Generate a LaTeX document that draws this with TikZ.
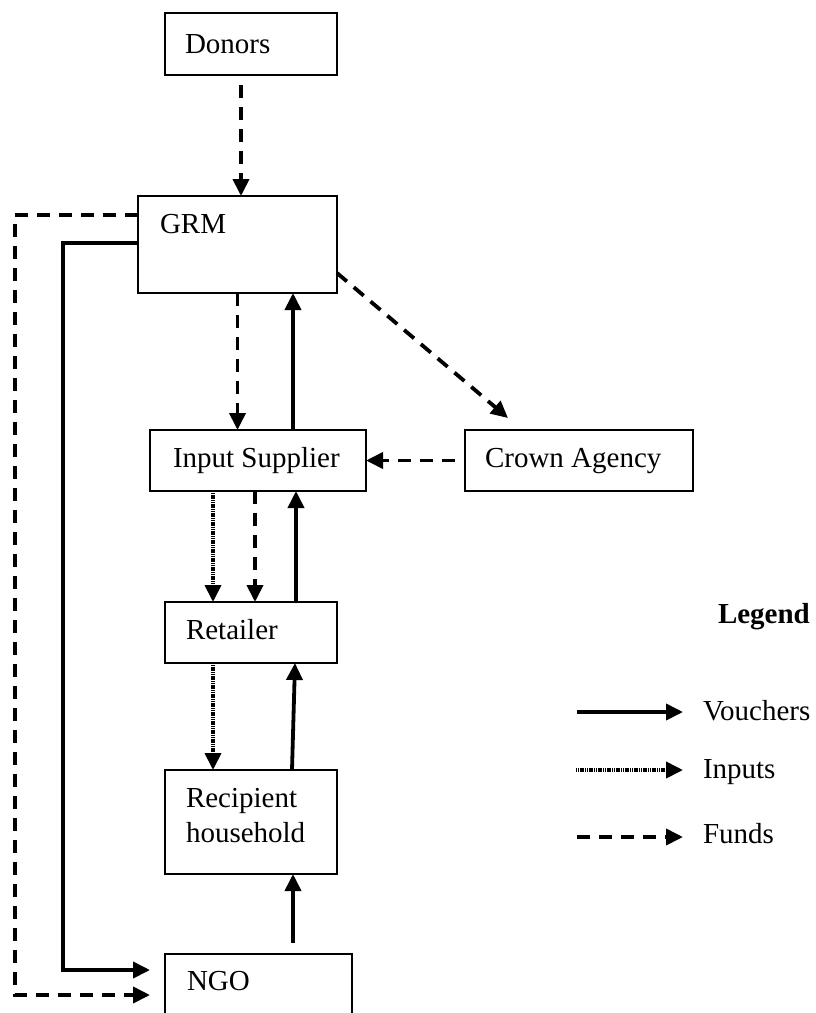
\documentclass[tikz,border=0pt]{standalone}
\usepackage{fontspec}
\setmainfont{Liberation Serif}
\usetikzlibrary{arrows.meta,calc}
\begin{document}
\begin{tikzpicture}[x=1pt,y=-1pt,
  box/.style={draw, line width=1.8pt, inner sep=0pt, outer sep=0pt},
  txt/.style={inner sep=0pt, outer sep=0pt, anchor=base west, font=\fontsize{29}{35}\selectfont},
  tip/.style={-{Triangle[length=17pt,width=16pt]}},
  vouch/.style={tip, line width=3.8pt},
  funds/.style={tip, line width=3.8pt, dash pattern=on 13pt off 9pt},
  inputs/.style={tip, line width=3.8pt, dash pattern=on 1.2pt off 0.6pt}]
\useasboundingbox (0,0) rectangle (816,1013);
% boxes
\node[box, minimum width=172pt, minimum height=62pt] (donors) at (251,44) {};
\node[box, minimum width=199pt, minimum height=97pt] (grm) at (237.5,244.5) {};
\node[box, minimum width=216pt, minimum height=61pt] (is) at (258,460.5) {};
\node[box, minimum width=228pt, minimum height=61pt] (crown) at (579,460.5) {};
\node[box, minimum width=172pt, minimum height=61pt] (ret) at (251,632.5) {};
\node[box, minimum width=172pt, minimum height=104pt] (rec) at (251,822) {};
\node[box, minimum width=187pt, minimum height=80pt] (ngo) at (258.5,994) {};
% labels
\node[txt] (donorsT) at (185,53) {Donors};
\node[txt] (grmT) at (160,233) {GRM};
\node[txt] (isT) at (173,467) {Input Supplier};
\node[txt] (crownT) at (485,467) {Crown Agency};
\node[txt] (retT) at (186,639) {Retailer};
\node[txt] (recT1) at (186,807) {Recipient};
\node[txt] (recT2) at (186,842) {household};
\node[txt] (ngoT) at (187,990) {NGO};
% connectors
\draw[funds, shorten <=10pt] ([xshift=-10pt]donors.south) -- ([xshift=-10pt]donors.south |- grm.north);
\coordinate (lf) at (15,0);
\coordinate (ls) at (63,0);
\draw[funds, shorten >=15pt] ([yshift=-19pt]grm.north west) -- ([yshift=-19pt]grm.north west -| lf)
   -- ([yshift=-41pt]ngo.north west -| lf) -- ([yshift=-41pt]ngo.north west);
\draw[vouch, shorten >=15pt] ([yshift=-47pt]grm.north west) -- ([yshift=-47pt]grm.north west -| ls)
   -- ([yshift=-16pt]ngo.north west -| ls) -- ([yshift=-16pt]ngo.north west);
\draw[funds] (grm.south) -- (grm.south |- is.north);
\draw[vouch] ([xshift=35pt]is.north) -- ([xshift=35pt]is.north |- grm.south);
\draw[funds] ([yshift=20pt]grm.south east) -- ([xshift=43pt,yshift=12pt]crown.north west);
\draw[funds, shorten <=10pt] (crown.west) -- (crown.west -| is.east);
\draw[inputs] ([xshift=-45pt]is.south) -- ([xshift=-45pt]is.south |- ret.north);
\draw[funds] ([xshift=-3pt]is.south) -- ([xshift=-3pt]is.south |- ret.north);
\draw[vouch] ([xshift=45pt]ret.north) -- ([xshift=45pt]ret.north |- is.south);
\draw[inputs] ([xshift=-38pt]ret.south) -- ([xshift=-38pt]ret.south |- rec.north);
\draw[vouch] ([xshift=41pt]rec.north) -- ([xshift=44pt]ret.south);
\draw[vouch] ([xshift=34.5pt,yshift=11pt]ngo.north) -- ([xshift=34.5pt]ngo.north |- rec.south);
% legend
\node[txt, font=\fontsize{29}{35}\selectfont\bfseries] (legT) at (718,623) {Legend};
\coordinate (v1) at (577,712); \coordinate (v2) at (683,712);
\coordinate (i1) at (576,770); \coordinate (i2) at (683,770);
\coordinate (f1) at (577,837); \coordinate (f2) at (683,837);
\draw[vouch] (v1) -- (v2);
\draw[inputs] (i1) -- (i2);
\draw[funds] (f1) -- (f2);
\node[txt] (vT) at (703,720) {Vouchers};
\node[txt] (iT) at (703,778) {Inputs};
\node[txt] (fT) at (703,843) {Funds};
\end{tikzpicture}
\end{document}
